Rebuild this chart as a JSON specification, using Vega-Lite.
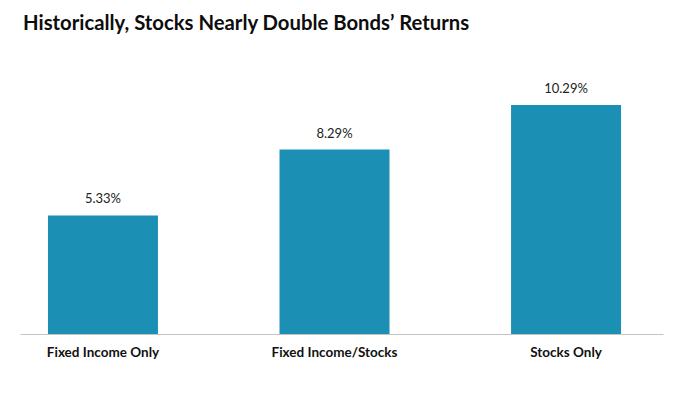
{
  "$schema": "https://vega.github.io/schema/vega-lite/v6.json",
  "width": 643,
  "height": 267,
  "autosize": {"type": "none"},
  "padding": {"left": 20, "top": 67, "right": 37, "bottom": 67},
  "background": "white",
  "title": {
    "text": "Historically, Stocks Nearly Double Bonds’ Returns",
    "anchor": "start",
    "frame": "group",
    "orient": "top",
    "baseline": "alphabetic",
    "offset": 17,
    "dx": 3,
    "font": "Lato",
    "fontSize": 20.3,
    "fontWeight": "bold",
    "color": "#0d0d0d"
  },
  "data": {
    "values": [
      {"category": "Fixed Income Only", "value": 0.0533},
      {"category": "Fixed Income/Stocks", "value": 0.0829},
      {"category": "Stocks Only", "value": 0.1029}
    ]
  },
  "encoding": {
    "x": {
      "field": "category",
      "type": "nominal",
      "sort": null,
      "scale": {"paddingInner": 0.525, "paddingOuter": 0.151, "align": 0.4},
      "axis": {
        "title": null,
        "labelAngle": 0,
        "ticks": false,
        "domainColor": "#c4c4c4",
        "domainWidth": 1,
        "labelFont": "Lato",
        "labelFontSize": 13.5,
        "labelFontWeight": "bold",
        "labelColor": "#111111",
        "labelPadding": 11
      }
    },
    "y": {
      "field": "value",
      "type": "quantitative",
      "scale": {"domain": [0, 0.12], "nice": false},
      "axis": null
    }
  },
  "layer": [
    {"mark": {"type": "bar", "color": "#1b8fb4"}},
    {
      "mark": {"type": "text", "baseline": "alphabetic", "dy": -12, "font": "Lato", "fontSize": 13, "color": "#222222"},
      "encoding": {"text": {"field": "value", "type": "quantitative", "format": ".2%"}}
    }
  ],
  "config": {"view": {"stroke": null}, "axis": {"grid": false}}
}
